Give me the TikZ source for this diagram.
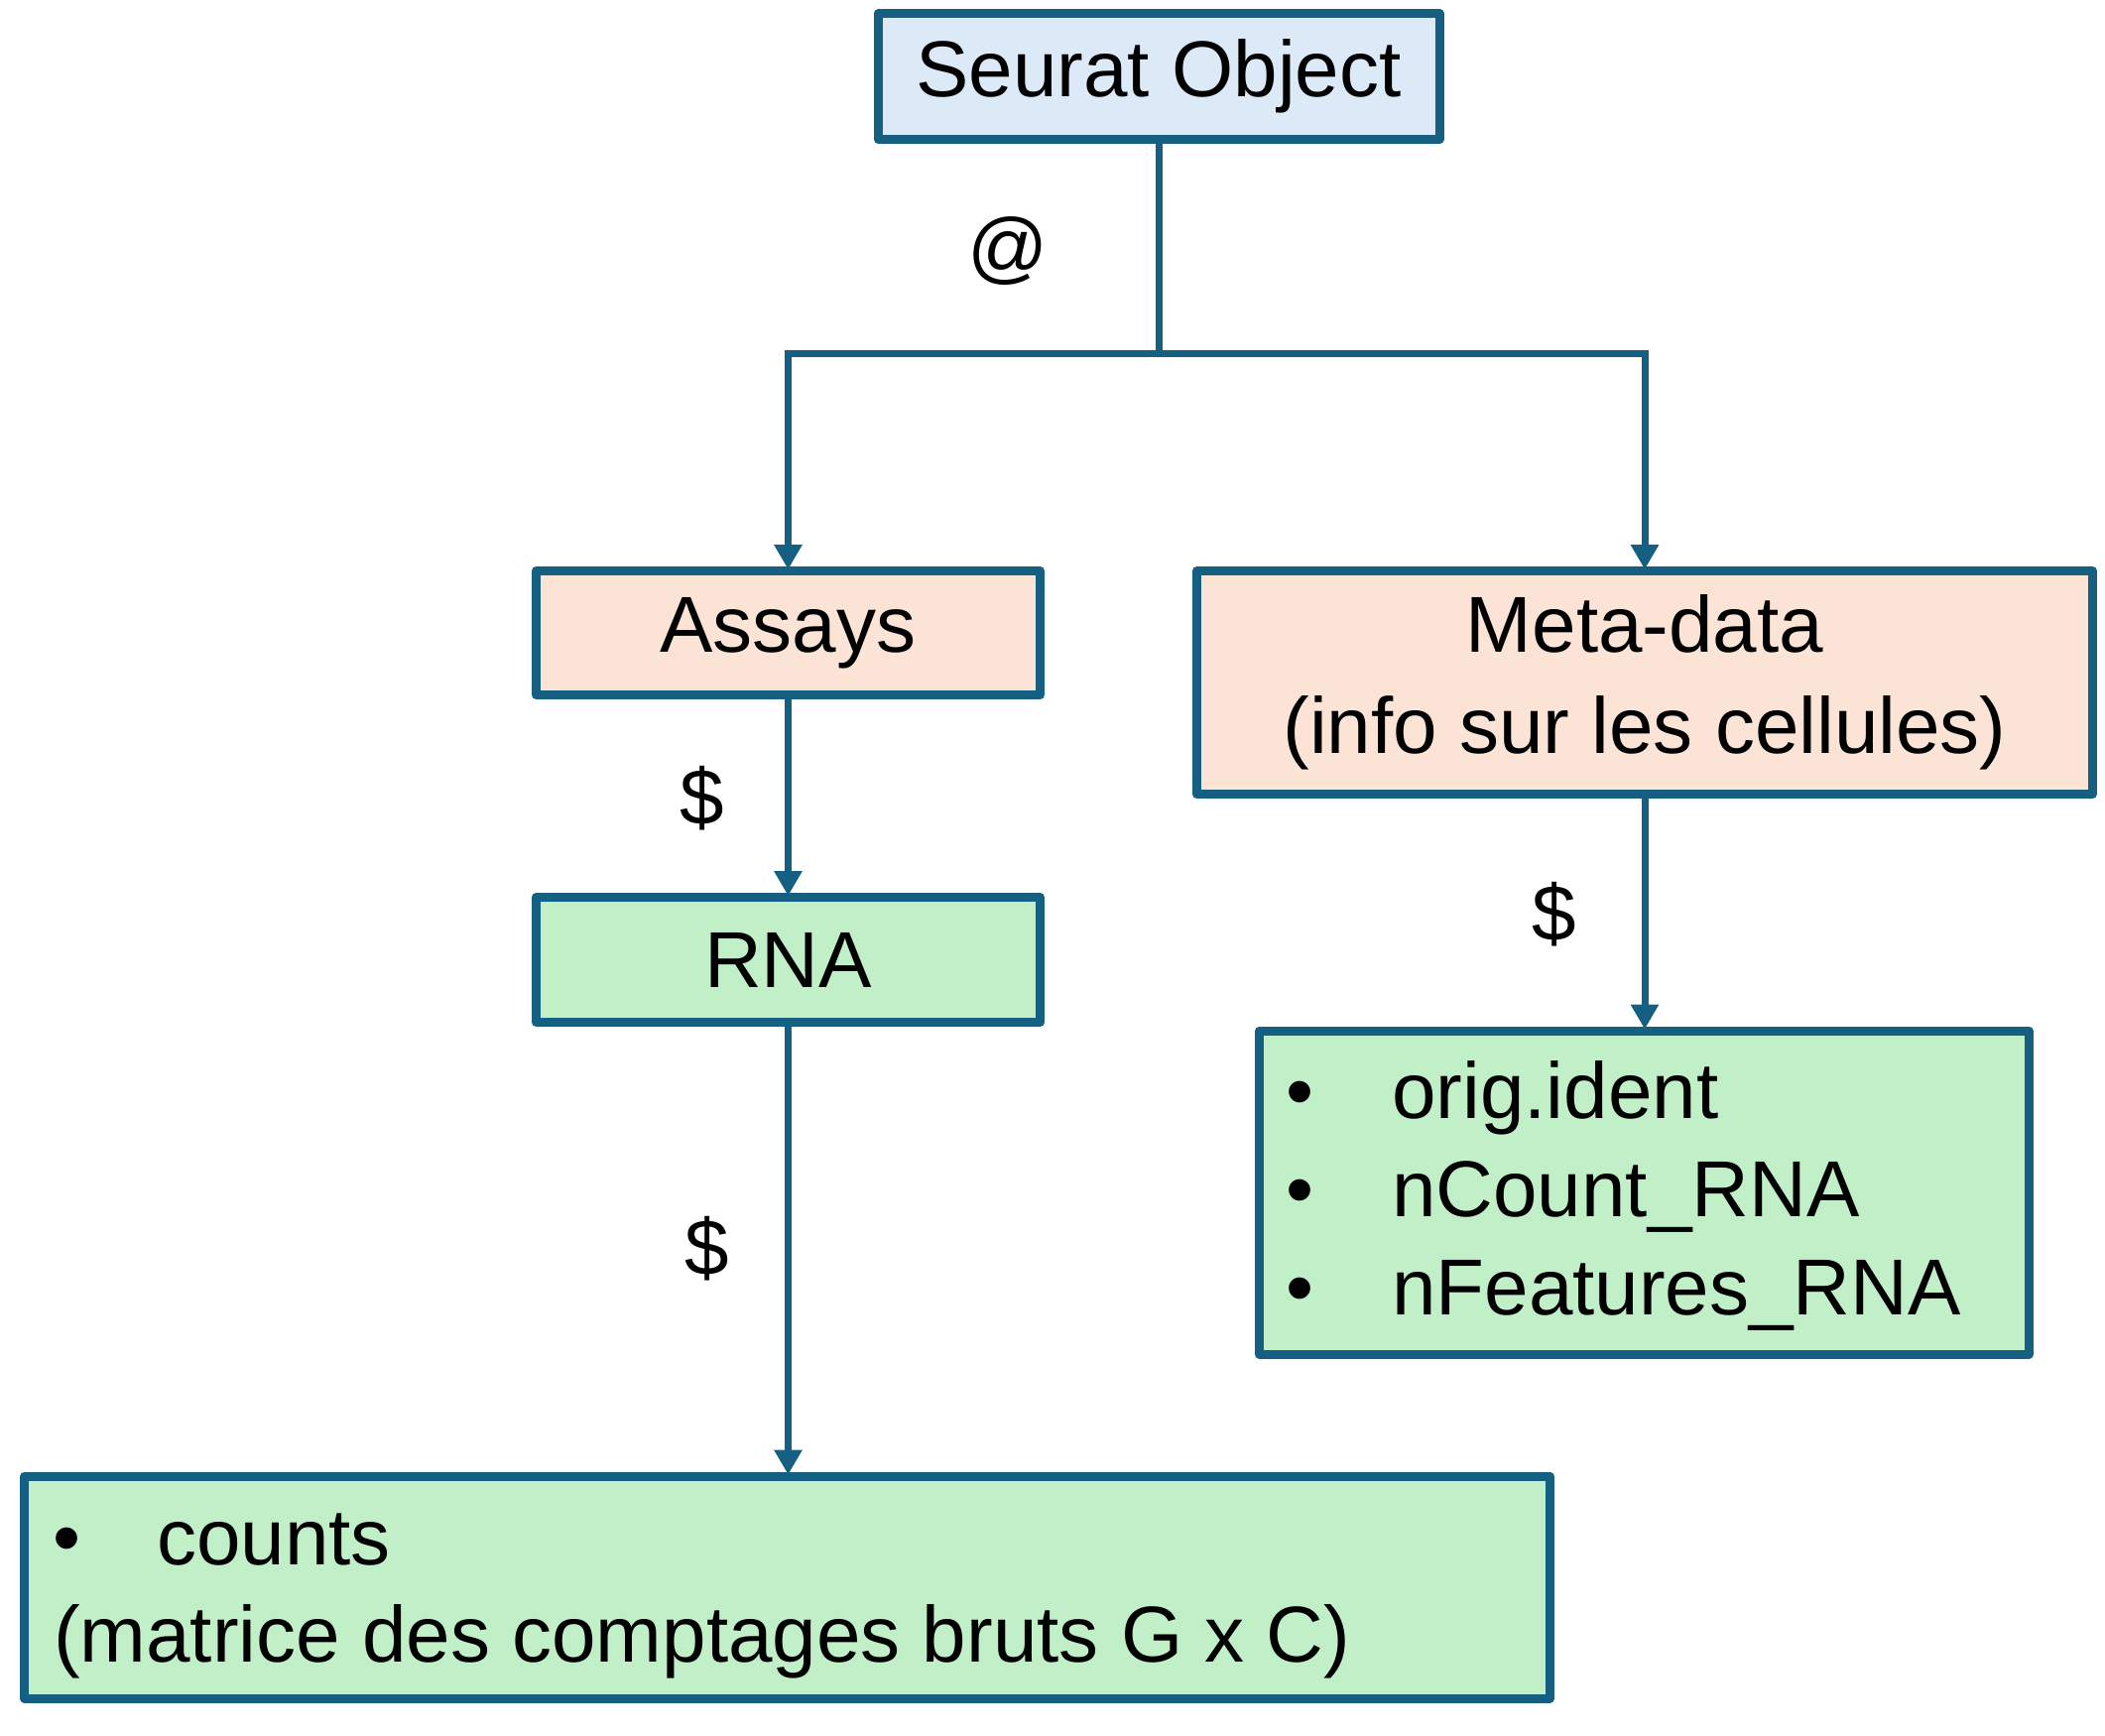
\documentclass[tikz,border=0pt]{standalone}
\usepackage{fontspec}
\setmainfont{Liberation Sans}
\usetikzlibrary{arrows.meta}
\definecolor{edgeblue}{HTML}{156082}
\definecolor{bluefill}{HTML}{DCEAF7}
\definecolor{pinkfill}{HTML}{FBE3D6}
\definecolor{greenfill}{HTML}{C1F0C8}
\begin{document}
\begin{tikzpicture}[x=1pt,y=-1pt,
  box/.style={draw=edgeblue, line width=9pt, line join=round, rectangle, inner sep=0pt,
    font=\fontsize{80}{102}\selectfont, align=center},
  conn/.style={draw=edgeblue, line width=7pt},
  arr/.style={conn, -{Triangle[length=25pt,width=27pt]}, shorten >=-3pt},
  lbl/.style={font=\fontsize{80}{102}\selectfont, inner sep=0pt}]
\useasboundingbox (0,0) rectangle (2122,1750);
% boxes
\node[box, fill=bluefill, minimum width=566pt, minimum height=127pt] (seurat) at (1168,77) {Seurat Object};
\node[box, fill=pinkfill, minimum width=508pt, minimum height=125pt] (assays) at (794.5,638) {Assays};
\node[box, fill=pinkfill, minimum width=903pt, minimum height=225pt] (meta) at (1658,688) {Meta-data\\(info sur les cellules)};
\node[box, fill=greenfill, minimum width=508pt, minimum height=126pt] (rna) at (794.5,967.5) {RNA};
\node[box, fill=greenfill, minimum width=776pt, minimum height=326pt] (orig) at (1657.5,1202) {};
\node[box, fill=greenfill, minimum width=1538pt, minimum height=224pt] (counts) at (793.5,1600) {};
% list texts
\node[lbl, anchor=base] (b1) at (1310,1127) {•};
\node[lbl, anchor=base west] (t1) at (1403,1127) {orig.ident};
\node[lbl, anchor=base] (b2) at (1310,1226) {•};
\node[lbl, anchor=base west] (t2) at (1403,1226) {nCount\_RNA};
\node[lbl, anchor=base] (b3) at (1310,1325) {•};
\node[lbl, anchor=base west] (t3) at (1403,1325) {nFeatures\_RNA};
\node[lbl, anchor=base] (b4) at (68,1577) {•};
\node[lbl, anchor=base west] (t4) at (158,1577) {counts};
\node[lbl, anchor=base west] (t5) at (54,1675) {(matrice des comptages bruts G x C)};
% connector labels
\node[lbl] (at) at (1016,253) {@};
\node[lbl] (d1) at (708,805) {\$};
\node[lbl] (d2) at (713,1259) {\$};
\node[lbl] (d3) at (1567,922) {\$};
% connectors
\coordinate (junc) at (seurat.south |- 0,356);
\draw[conn] (seurat.south) -- (junc);
\draw[arr] (junc) -| (assays.north);
\draw[arr] (junc) -| (meta.north);
\draw[arr] (assays.south) -- (rna.north);
\draw[arr] (rna.south) -- (rna.south |- counts.north);
\draw[arr] (meta.south) -- (meta.south |- orig.north);
\end{tikzpicture}
\end{document}
